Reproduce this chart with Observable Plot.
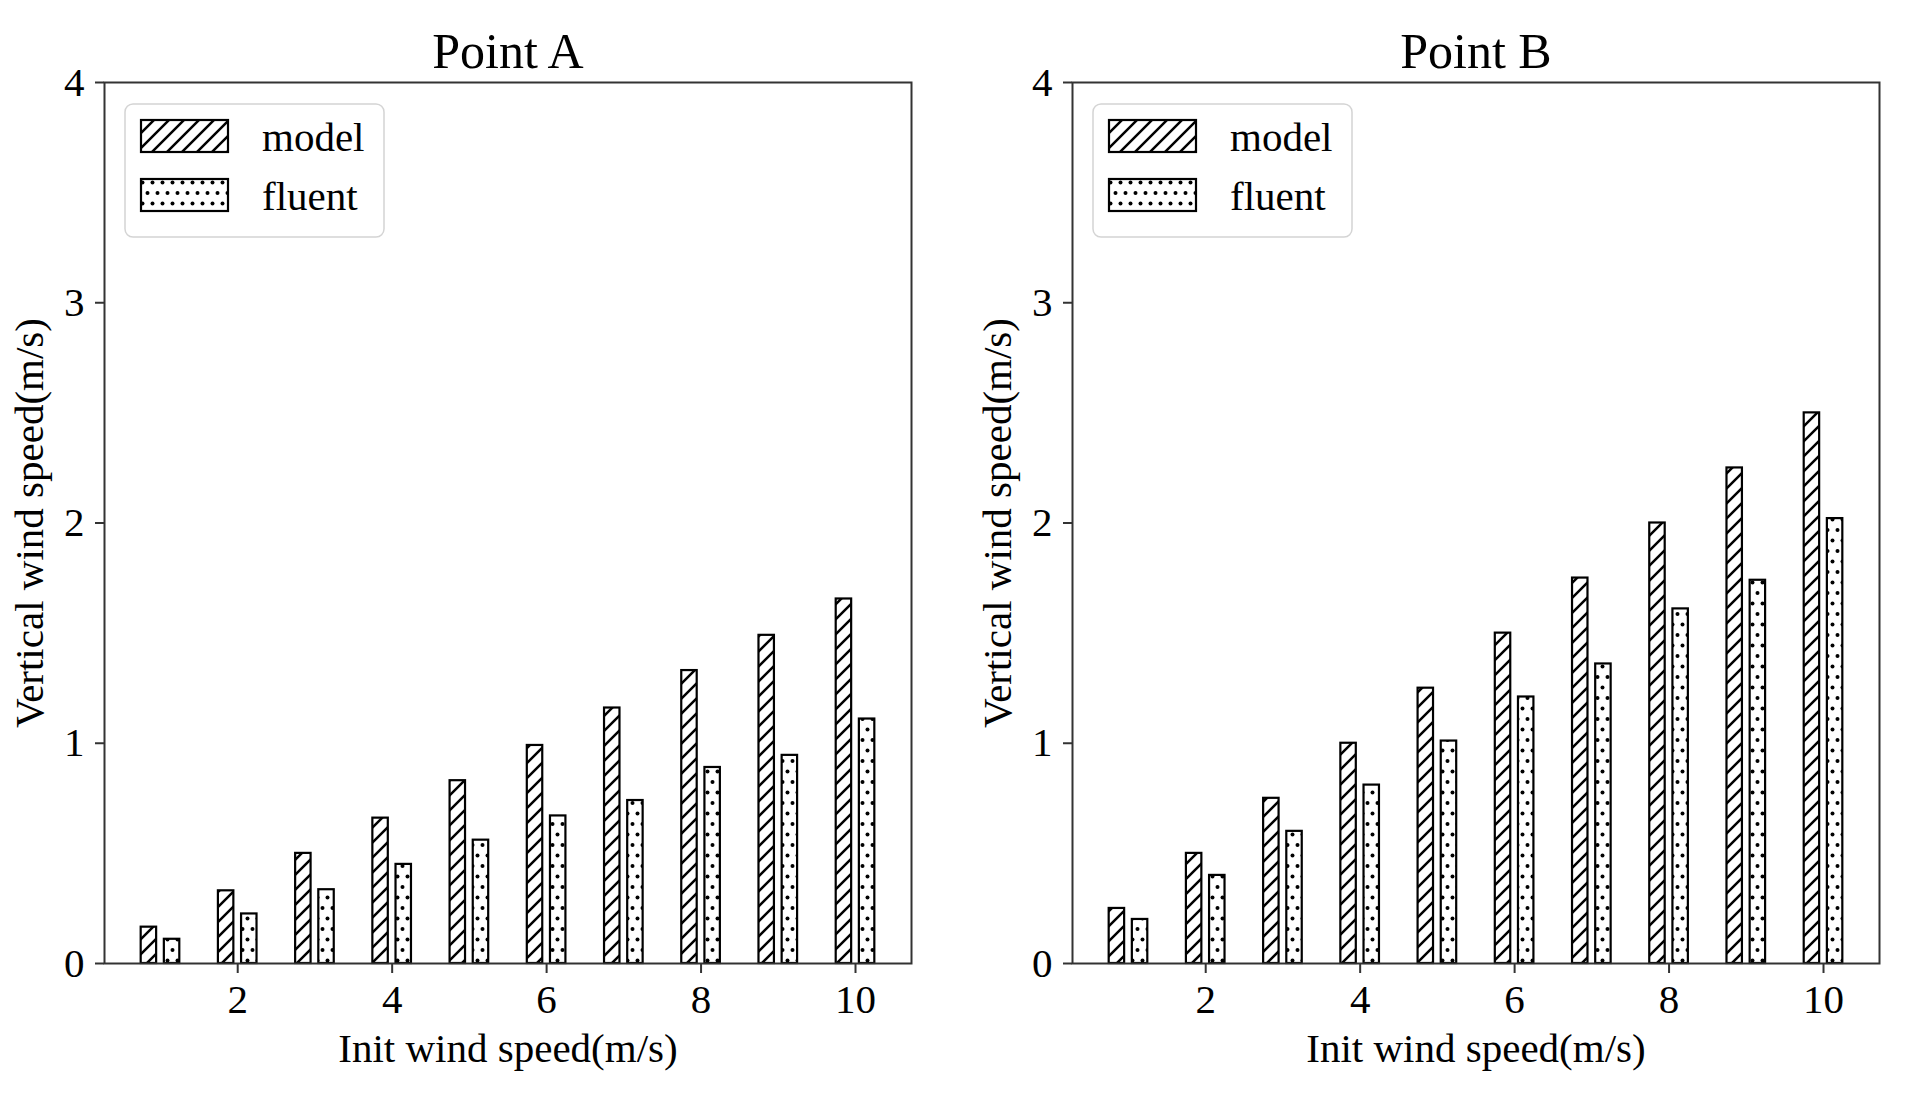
<!DOCTYPE html>
<html><head><meta charset="utf-8">
<script src="https://cdn.jsdelivr.net/npm/d3@7"></script>
<script src="https://cdn.jsdelivr.net/npm/@observablehq/plot@0.6"></script>
<style>
html,body{margin:0;padding:0;background:#fff;}
#wrap{display:flex;width:1909px;height:1094px;overflow:hidden;}
svg{display:block}
</style></head><body><div id="wrap"></div>
<script>
const speeds = [1, 2, 3, 4, 5, 6, 7, 8, 9, 10];
const modelA = [0.165, 0.33, 0.50, 0.66, 0.83, 0.99, 1.16, 1.33, 1.49, 1.655];
const fluentA = [0.11, 0.225, 0.335, 0.45, 0.56, 0.67, 0.74, 0.89, 0.945, 1.11];
const modelB = [0.25, 0.50, 0.75, 1.00, 1.25, 1.50, 1.75, 2.00, 2.25, 2.50];
const fluentB = [0.20, 0.40, 0.60, 0.81, 1.01, 1.21, 1.36, 1.61, 1.74, 2.02];
const seriesNames = ["model", "fluent"];
const xTicks = [2, 4, 6, 8, 10];
const yTicks = [0, 1, 2, 3, 4];
const titles = ["Point A", "Point B"];
const xLabel = "Init wind speed(m/s)";
const yLabel = "Vertical wind speed(m/s)";

const FONT = "'Liberation Serif', 'Times New Roman', Times, serif";

function addPatterns(svg, id) {
  const defs = d3.select(svg).insert("defs", ":first-child");
  const h = defs.append("pattern").attr("id", id + "-hatch")
    .attr("patternUnits", "userSpaceOnUse").attr("width", 15).attr("height", 15);
  h.append("rect").attr("width", 15).attr("height", 15).attr("fill", "white");
  h.append("path").attr("d", "M-1,16 L16,-1 M-2,2 L2,-2 M13,17 L17,13")
    .attr("stroke", "black").attr("stroke-width", 2.5).attr("fill", "none");
  const p = defs.append("pattern").attr("id", id + "-dots")
    .attr("patternUnits", "userSpaceOnUse").attr("width", 10).attr("height", 21);
  p.append("rect").attr("width", 10).attr("height", 21).attr("fill", "white");
  p.append("circle").attr("cx", 2.5).attr("cy", 5).attr("r", 2).attr("fill", "black");
  p.append("circle").attr("cx", 7.5).attr("cy", 15.5).attr("r", 2).attr("fill", "black");
}

function panel(title, model, fluent, width, ml, mr, id) {
  const rows = speeds.flatMap((s, i) => [
    {speed: s, series: seriesNames[0], value: model[i]},
    {speed: s, series: seriesNames[1], value: fluent[i]}
  ]);
  const off1 = d => d.series === "model" ? -0.25 : 0.05;
  const off2 = d => d.series === "model" ? -0.05 : 0.25;
  const mt = 82, mb = 131;
  const svg = Plot.plot({
    width, height: 1094,
    marginLeft: ml, marginRight: mr, marginTop: mt, marginBottom: mb,
    style: {fontFamily: FONT, fontSize: "41px", color: "black", background: "white", overflow: "visible"},
    x: {type: "linear", domain: [0.275, 10.725]},
    y: {domain: [0, 4]},
    marks: [
      Plot.rect(rows.filter(d => d.series === "model"), {
        x1: d => d.speed + off1(d), x2: d => d.speed + off2(d),
        y1: () => 0, y2: "value", fill: `url(#${id}-hatch)`, stroke: "black", strokeWidth: 2.2
      }),
      Plot.rect(rows.filter(d => d.series === "fluent"), {
        x1: d => d.speed + off1(d), x2: d => d.speed + off2(d),
        y1: () => 0, y2: "value", fill: `url(#${id}-dots)`, stroke: "black", strokeWidth: 2.2
      }),
      Plot.axisX({ticks: xTicks, tickSize: 10, tickPadding: 10, fontSize: 41, strokeWidth: 2, stroke: "#333", label: null, tickFormat: d => String(d)}),
      Plot.axisY({ticks: yTicks, tickSize: 9, tickPadding: 11, fontSize: 41, strokeWidth: 2, stroke: "#333", label: null, tickFormat: d => String(d)}),
      Plot.frame({stroke: "#333", strokeWidth: 2}),
      Plot.text([title], {text: d => d, frameAnchor: "top", textAnchor: "middle", lineAnchor: "bottom", dy: -15, fontSize: 50}),
      Plot.text([xLabel], {text: d => d, frameAnchor: "bottom", textAnchor: "middle", lineAnchor: "bottom", dy: 98, fontSize: 41}),
      Plot.text([yLabel], {text: d => d, frameAnchor: "left", textAnchor: "middle", lineAnchor: "bottom", rotate: -90, dx: -62, fontSize: 41})
    ]
  });
  addPatterns(svg, id);
  const s = d3.select(svg);

  // legend
  const lg = s.append("g").attr("transform", `translate(${ml + 21},${mt + 22})`);
  lg.append("rect").attr("width", 259).attr("height", 133).attr("rx", 8)
    .attr("fill", "white").attr("fill-opacity", 0.8).attr("stroke", "#d4d4d4").attr("stroke-width", 1.5);
  const fills = [`url(#${id}-hatch)`, `url(#${id}-dots)`];
  seriesNames.forEach((name, i) => {
    const y0 = 16 + i * 59;
    lg.append("rect").attr("x", 16).attr("y", y0).attr("width", 87).attr("height", 32)
      .attr("fill", fills[i]).attr("stroke", "black").attr("stroke-width", 2.2);
    lg.append("text").attr("x", 137).attr("y", y0 + 31).attr("font-size", 41)
      .attr("text-anchor", "start")
      .attr("font-family", FONT).attr("fill", "black").text(name);
  });
  return svg;
}

const wrap = document.getElementById("wrap");
wrap.appendChild(panel(titles[0], modelA, fluentA, 955, 104, 44, "pa"));
wrap.appendChild(panel(titles[1], modelB, fluentB, 954, 117, 30, "pb"));
</script>
</body></html>
